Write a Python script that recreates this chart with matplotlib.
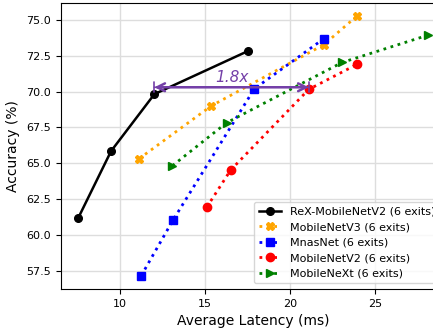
import matplotlib
matplotlib.use('Agg')
from matplotlib import pyplot as plt

# values (latency ms, accuracy %)
rex_lat = [7.53, 9.47, 12.02, 17.51]
rex_acc = [61.15, 65.84, 69.82, 72.82]

v3_lat = [11.12, 15.37, 22.0, 23.96]
v3_acc = [65.31, 69.0, 73.28, 75.3]

mnas_lat = [11.24, 13.12, 17.9, 22.0]
mnas_acc = [57.13, 61.03, 70.19, 73.70]

v2_lat = [15.1, 16.51, 21.1, 23.96]
v2_acc = [61.92, 64.52, 70.15, 71.91]

next_lat = [13.08, 16.27, 23.06, 28.1]
next_acc = [64.82, 67.82, 72.03, 73.93]

speedup_label = '1.8x'
arrow_acc = 70.3
purple = '#7440a8'

fig = plt.figure(figsize=(4.33, 3.32), dpi=100)
# axes runs a bit past the right edge, like the cropped original
ax = fig.add_axes([0.140, 0.130, 0.888, 0.862])

ax.plot(rex_lat, rex_acc, '-o', color='black', lw=1.8, ms=5.5, label='ReX-MobileNetV2 (6 exits)')
ax.plot(v3_lat, v3_acc, ':X', color='orange', lw=2, ms=6, label='MobileNetV3 (6 exits)')
ax.plot(mnas_lat, mnas_acc, ':s', color='blue', lw=2, ms=6, label='MnasNet (6 exits)')
ax.plot(v2_lat, v2_acc, ':o', color='red', lw=2, ms=6, label='MobileNetV2 (6 exits)')
ax.plot(next_lat, next_acc, ':>', color='green', lw=2, ms=6, label='MobileNeXt (6 exits)')

x0, x1 = rex_lat[2], v2_lat[2]
ax.annotate('', xy=(x1, arrow_acc), xytext=(x0, arrow_acc),
            arrowprops=dict(arrowstyle='<->', color=purple, lw=1.8,
                            shrinkA=0, shrinkB=0, mutation_scale=14))
ax.annotate('', xy=(x1, arrow_acc), xytext=(x0, arrow_acc),
            arrowprops=dict(arrowstyle='|-|,widthA=0.35,widthB=0.35', color=purple, lw=1.2,
                            shrinkA=0, shrinkB=0))
ax.text((x0 + x1) / 2, arrow_acc + 0.15, speedup_label, color=purple, style='italic',
        fontsize=11, ha='center', va='bottom')

ax.set_xlabel('Average Latency (ms)', fontsize=10)
ax.set_ylabel('Accuracy (%)', fontsize=10)
ax.tick_params(labelsize=8)
ax.grid(color='#dddddd', lw=1)
ax.set_axisbelow(True)
ax.legend(loc='lower right', fontsize=8)

fig.savefig('out.png', dpi=100)
